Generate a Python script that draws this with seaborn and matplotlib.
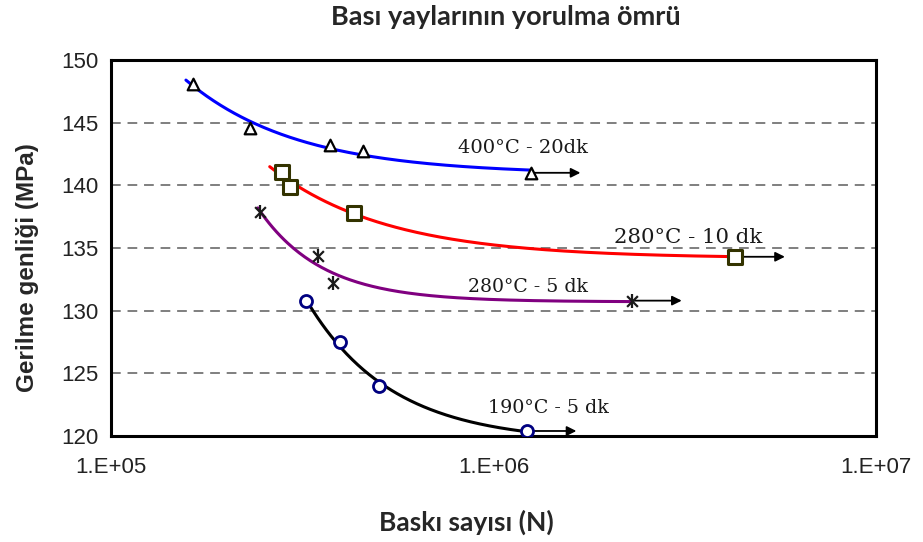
import numpy as np
import pandas as pd
import matplotlib
matplotlib.use("Agg")
import matplotlib.pyplot as plt
import seaborn as sns

# Fatigue test results: number of cycles (N) vs. stress amplitude (MPa)
series_names = ["400°C - 20dk", "280°C - 10 dk", "280°C - 5 dk", "190°C - 5 dk"]
cycles_400_20 = [1.64e5, 2.31e5, 3.74e5, 4.56e5, 1.25e6]
stress_400_20 = [148.1, 144.6, 143.2, 142.7, 141.0]
cycles_280_10 = [2.80e5, 2.94e5, 4.32e5, 4.28e6]
stress_280_10 = [141.1, 139.9, 137.8, 134.3]
cycles_280_5 = [2.45e5, 3.48e5, 3.80e5, 2.30e6]
stress_280_5 = [137.9, 134.4, 132.2, 130.8]
cycles_190_5 = [3.23e5, 3.97e5, 5.02e5, 1.22e6]
stress_190_5 = [130.8, 127.5, 124.0, 120.4]
# where each trend curve begins (cycles)
trend_start = [1.57e5, 2.60e5, 2.42e5, 3.20e5]
y_ticks = [120, 125, 130, 135, 140, 145, 150]
x_ticks = [1e5, 1e6, 1e7]
x_tick_labels = ["1.E+05", "1.E+06", "1.E+07"]

sns.set_style("white")
plt.rcParams["font.family"] = ["Liberation Sans", "DejaVu Sans"]

fig = plt.figure(figsize=(9.23, 5.42), dpi=100)
ax = fig.add_axes([111 / 923, 1 - 436 / 542, 765 / 923, 376 / 542])

series = [
    (cycles_400_20, stress_400_20, "#0000ff"),
    (cycles_280_10, stress_280_10, "#ff0000"),
    (cycles_280_5, stress_280_5, "#800080"),
    (cycles_190_5, stress_190_5, "#000000"),
]


def decay_fit(xs, ys, x0, x1):
    """Least-squares fit of y = a + b*exp(-k*log10(x)); returns a smooth curve."""
    u = np.log10(np.asarray(xs, float))
    y = np.asarray(ys, float)
    best = None
    for k in np.linspace(0.2, 25, 500):
        A = np.column_stack([np.ones_like(u), np.exp(-k * (u - u.min()))])
        coef, *_ = np.linalg.lstsq(A, y, rcond=None)
        err = np.sum((A @ coef - y) ** 2)
        if best is None or err < best[0]:
            best = (err, k, coef)
    _, k, coef = best
    uu = np.linspace(np.log10(x0), np.log10(x1), 200)
    return 10 ** uu, coef[0] + coef[1] * np.exp(-k * (uu - u.min()))


for (xs, ys, col), x0 in zip(series, trend_start):
    cx, cy = decay_fit(xs, ys, x0, xs[-1])
    curve = pd.DataFrame({"N": cx, "S": cy})
    sns.lineplot(data=curve, x="N", y="S", ax=ax, color=col, lw=2.2,
                 sort=False, estimator=None, zorder=3)
    # run-out arrow from the last specimen
    ax.annotate("", xy=(xs[-1] * 1.35, ys[-1]), xytext=(xs[-1], ys[-1]),
                arrowprops=dict(arrowstyle="-|>", color="black", lw=1.3,
                                mutation_scale=14, shrinkA=0, shrinkB=0),
                zorder=4)

sns.scatterplot(x=cycles_400_20, y=stress_400_20, ax=ax, marker="^", s=70,
                facecolor="white", edgecolor="black", linewidth=1.6, zorder=5)
sns.scatterplot(x=cycles_280_10, y=stress_280_10, ax=ax, marker="s", s=110,
                facecolor="white", edgecolor="#333300", linewidth=2.2, zorder=5)
sns.scatterplot(x=cycles_280_5, y=stress_280_5, ax=ax, marker="x", s=60,
                color="#1a1a1a", linewidth=1.6, zorder=5)
sns.scatterplot(x=cycles_280_5, y=stress_280_5, ax=ax, marker="|", s=110,
                color="#1a1a1a", linewidth=1.6, zorder=5)
sns.scatterplot(x=cycles_190_5, y=stress_190_5, ax=ax, marker="o", s=75,
                facecolor="white", edgecolor="#000080", linewidth=2.0, zorder=5)

# curve labels
label_font = dict(family=["DejaVu Serif"], color="#1a1a1a")
ax.text(8.07e5, 142.98, series_names[0], ha="left", va="center", fontsize=14, **label_font)
ax.text(2.07e6, 135.87, series_names[1], ha="left", va="center", fontsize=15.3, **label_font)
ax.text(8.58e5, 131.9, series_names[2], ha="left", va="center", fontsize=13.6, **label_font)
ax.text(9.67e5, 122.2, series_names[3], ha="left", va="center", fontsize=13.7, **label_font)

ax.set_xscale("log")
ax.set_xlim(1e5, 1e7)
ax.set_ylim(120, 150)
ax.set_xticks(x_ticks)
ax.set_xticklabels(x_tick_labels)
ax.xaxis.set_minor_locator(matplotlib.ticker.NullLocator())
ax.set_yticks(y_ticks)
ax.tick_params(axis="both", which="major", direction="out", length=6, width=1,
               color="#555555", labelsize=16, labelcolor="#222222")
ax.tick_params(axis="x", pad=9)
ax.tick_params(axis="y", pad=3)

ax.yaxis.grid(True, linestyle=(0, (5, 3.5)), color="#7f7f7f", lw=1.4)
ax.xaxis.grid(False)
ax.set_axisbelow(True)
for sp in ax.spines.values():
    sp.set_visible(True)
    sp.set_color("black")
    sp.set_linewidth(2.2)

ax.set_xlabel("")
ax.set_ylabel("")
fig.text(506 / 923, 1 - 17 / 542, "Bası yaylarının yorulma ömrü", ha="center",
         va="center", fontsize=19.5, fontweight="bold", family=["Lato", "DejaVu Sans"])
fig.text(466 / 923, 1 - 522 / 542, "Baskı sayısı (N)", ha="center", va="center",
         fontsize=19, fontweight="bold", family=["Lato", "DejaVu Sans"])
fig.text(28 / 923, 1 - 268 / 542, "Gerilme genliği (MPa)", ha="center", va="center",
         rotation=90, fontsize=17.5, fontweight="bold")

fig.savefig("out.png", dpi=100)
